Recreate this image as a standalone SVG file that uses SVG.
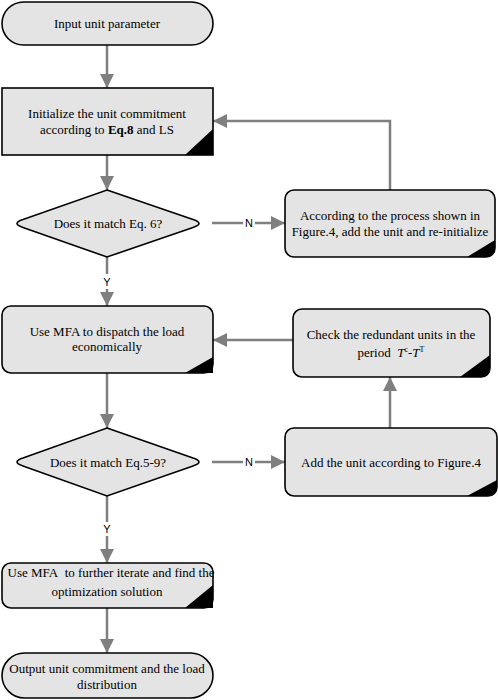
<svg xmlns="http://www.w3.org/2000/svg" width="498" height="700" viewBox="0 0 498 700">
<defs>
<marker id="ah" markerUnits="userSpaceOnUse" markerWidth="16" markerHeight="16" viewBox="0 0 16 16" refX="15" refY="8" orient="auto">
<path d="M1,1 L15,8 L1,15 Z" fill="#7f7f7f"/>
</marker>
<style>
.n{fill:#e4e4e4;stroke:#000;stroke-width:1.6}
.c{fill:#000;stroke:none}
.t{font-family:"Liberation Serif","Times New Roman",serif;font-size:13px;fill:#000;text-anchor:middle}
.l{font-family:"Liberation Sans",Arial,sans-serif;font-size:11px;fill:#000;text-anchor:middle}
.e{stroke:#7f7f7f;stroke-width:2.5;fill:none}
</style>
</defs>
<rect width="498" height="700" fill="#fff"/>
<g id="connectors">
<line class="e" x1="107" y1="45" x2="107" y2="88" marker-end="url(#ah)"/>
<line class="e" x1="107" y1="155" x2="107" y2="190" marker-end="url(#ah)"/>
<line class="e" x1="212" y1="223" x2="243" y2="223"/>
<text class="l" x="249" y="227">N</text>
<line class="e" x1="255" y1="223" x2="285" y2="223" marker-end="url(#ah)"/>
<polyline class="e" points="390,190 390,121 213,121" marker-end="url(#ah)"/>
<line class="e" x1="107" y1="257" x2="107" y2="274"/>
<text class="l" x="107" y="286">Y</text>
<line class="e" x1="107" y1="289" x2="107" y2="306" marker-end="url(#ah)"/>
<line class="e" x1="107" y1="373" x2="107" y2="428" marker-end="url(#ah)"/>
<line class="e" x1="212" y1="462" x2="243" y2="462"/>
<text class="l" x="249" y="466">N</text>
<line class="e" x1="255" y1="462" x2="285" y2="462" marker-end="url(#ah)"/>
<line class="e" x1="390" y1="428" x2="390" y2="377" marker-end="url(#ah)"/>
<line class="e" x1="293" y1="340" x2="213" y2="340" marker-end="url(#ah)"/>
<line class="e" x1="107" y1="496" x2="107" y2="522"/>
<text class="l" x="107" y="533">Y</text>
<line class="e" x1="107" y1="536" x2="107" y2="563" marker-end="url(#ah)"/>
<line class="e" x1="107" y1="608" x2="107" y2="653" marker-end="url(#ah)"/>
</g>
<g id="start">
<rect class="n" x="2" y="2" width="211" height="43" rx="21.5" ry="21.5"/>
<text class="t" x="107" y="28">Input unit parameter</text>
</g>
<g id="init">
<rect class="n" x="2" y="88" width="211" height="67"/>
<path class="c" d="M213,129 L213,155 L185,155 Z"/>
<text class="t" x="107" y="117.5">Initialize the unit commitment</text>
<text class="t" x="107" y="133.5">according to <tspan font-weight="bold">Eq.8</tspan> and LS</text>
</g>
<g id="dec1">
<path class="n" d="M107,190 L193,219.6 Q205,223.5 193,227.4 L107,257 L23,227.4 Q11,223.5 23,219.6 Z"/>
<text class="t" x="108" y="227.5">Does it match Eq. 6?</text>
</g>
<g id="addinit">
<rect class="n" x="285" y="190" width="210" height="67" rx="9" ry="9"/>
<path class="c" d="M495,240 L495,248 Q495,257 486,257 L467,257 Z"/>
<text class="t" x="390" y="220">According to the process shown in</text>
<text class="t" x="390" y="236">Figure.4, add the unit and re-initialize</text>
</g>
<g id="dispatch">
<rect class="n" x="2" y="306" width="211" height="67" rx="9" ry="9"/>
<path class="c" d="M213,357 L213,373 L185,373 Z"/>
<text class="t" x="107" y="336">Use MFA to dispatch the load</text>
<text class="t" x="107" y="351">economically</text>
</g>
<g id="check">
<rect class="n" x="293" y="309" width="197" height="68" rx="9" ry="9"/>
<path class="c" d="M490,355 L490,368 Q490,377 481,377 L460,377 Z"/>
<text class="t" x="391" y="338.5">Check the redundant units in the</text>
<text class="t" x="391" y="356.5">period&#160; <tspan font-style="italic">T</tspan><tspan font-size="8" dy="-5">c</tspan><tspan dy="5">-</tspan><tspan font-style="italic">T</tspan><tspan font-size="8" dy="-5">T</tspan></text>
</g>
<g id="dec2">
<path class="n" d="M107,428 L193,458.1 Q205,462 193,465.9 L107,496 L23,465.9 Q11,462 23,458.1 Z"/>
<text class="t" x="108" y="466.5">Does it match Eq.5-9?</text>
</g>
<g id="addunit">
<rect class="n" x="285" y="428" width="212" height="68" rx="9" ry="9"/>
<path class="c" d="M497,480 L497,487 Q497,496 488,496 L467,496 Z"/>
<text class="t" x="391" y="466.5">Add the unit according to Figure.4</text>
</g>
<g id="iterate">
<rect class="n" x="2" y="563" width="211" height="45" rx="9" ry="9"/>
<path class="c" d="M213,585 L213,608 L185,608 Z"/>
<text class="t" x="111" y="577">Use MFA&#160; to further iterate and find the</text>
<text class="t" x="107" y="596">optimization solution</text>
</g>
<g id="end">
<rect class="n" x="2" y="653" width="211" height="45" rx="22.5" ry="22.5"/>
<text class="t" x="107" y="672.5">Output unit commitment and the load</text>
<text class="t" x="107" y="688.5">distribution</text>
</g>
</svg>
